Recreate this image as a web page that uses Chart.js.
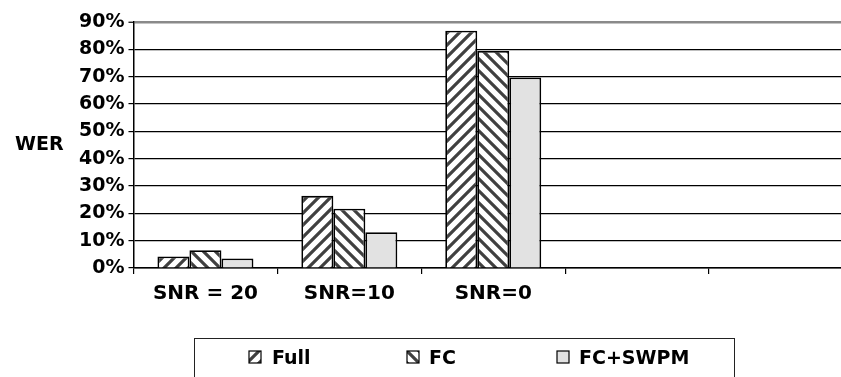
<!DOCTYPE html>
<html>
<head>
<meta charset="utf-8">
<script src="https://cdn.jsdelivr.net/npm/chart.js@4.4.1/dist/chart.umd.min.js"></script>
<style>
  html, body { margin: 0; padding: 0; background: #fff; overflow: hidden; }
  #wrap { position: relative; width: 860px; height: 377px; }
  #c { position: absolute; left: 0; top: 0; }
  .txt { position: absolute; font-family: 'DejaVu Sans', sans-serif; font-weight: bold; font-size: 19px; line-height: 22px; color: #000; white-space: nowrap; }
  #legendBox { position: absolute; left: 194px; top: 338px; width: 541px; height: 60px; box-sizing: border-box; border: 1.5px solid #222; }
  .mk { position: absolute; }
</style>
</head>
<body>
<div id="wrap">
  <canvas id="c" width="860" height="377"></canvas>
  <div class="txt" id="yTitle" style="left:15px; top:132px;">WER</div>
  <div id="legendBox"></div>
  <canvas class="mk" id="mk0" width="14" height="14" style="left:248px; top:350px;"></canvas>
  <div class="txt" id="lg0" style="left:272px; top:346px;"></div>
  <canvas class="mk" id="mk1" width="14" height="14" style="left:406px; top:350px;"></canvas>
  <div class="txt" id="lg1" style="left:429px; top:346px;"></div>
  <canvas class="mk" id="mk2" width="14" height="14" style="left:556px; top:350px;"></canvas>
  <div class="txt" id="lg2" style="left:579px; top:346px;"></div>
</div>
<script>
// ---- data ----
const categories = ['SNR = 20', 'SNR=10', 'SNR=0', '', ''];
const seriesNames = ['Full', 'FC', 'FC+SWPM'];
const fullValues = [4.2, 26.4, 86.8, null, null];
const fcValues = [6.5, 21.7, 79.4, null, null];
const fcSwpmValues = [3.5, 13.1, 69.7, null, null];
const yTicks = [0, 10, 20, 30, 40, 50, 60, 70, 80, 90];
const yTitle = 'WER';

// ---- patterns ----
function makeHatch(dir) {
  const s = 12;
  const c = document.createElement('canvas');
  c.width = s; c.height = s;
  const g = c.getContext('2d');
  g.fillStyle = '#ffffff';
  g.fillRect(0, 0, s, s);
  g.strokeStyle = '#404040';
  g.lineWidth = 3.2;
  g.beginPath();
  const h = s / 2;
  if (dir === '/') {
    g.moveTo(-h, h); g.lineTo(h, -h);
    g.moveTo(0, s); g.lineTo(s, 0);
    g.moveTo(h, s + h); g.lineTo(s + h, h);
  } else {
    g.moveTo(-h, h); g.lineTo(h, s + h);
    g.moveTo(0, 0); g.lineTo(s, s);
    g.moveTo(h, -h); g.lineTo(s + h, h);
  }
  g.stroke();
  return g.createPattern(c, 'repeat');
}
const ctx = document.getElementById('c').getContext('2d');
const fills = [makeHatch('/'), makeHatch('\\'), '#e2e2e2'];

// legend (HTML)
seriesNames.forEach((n, i) => {
  document.getElementById('lg' + i).textContent = n;
  const m = document.getElementById('mk' + i).getContext('2d');
  m.fillStyle = fills[i];
  m.fillRect(1, 1, 12, 12);
  m.strokeStyle = '#000';
  m.lineWidth = 1.2;
  m.strokeRect(1, 1, 12, 12);
});
document.getElementById('yTitle').textContent = yTitle;

Chart.defaults.color = '#000';
Chart.defaults.font.family = "'DejaVu Sans', sans-serif";
Chart.defaults.font.weight = 'bold';

const valueSets = [fullValues, fcValues, fcSwpmValues];
new Chart(ctx, {
  type: 'bar',
  data: {
    labels: categories,
    datasets: seriesNames.map((n, i) => ({
      label: n,
      data: valueSets[i],
      backgroundColor: fills[i],
      borderColor: '#000',
      borderWidth: 1.8,
      categoryPercentage: 0.667,
      barPercentage: 1.0
    }))
  },
  options: {
    responsive: false,
    animation: false,
    devicePixelRatio: 1,
    layout: { padding: { left: 75, right: 7, top: 22, bottom: 63 } },
    plugins: { legend: { display: false }, tooltip: { enabled: false } },
    scales: {
      x: {
        grid: { offset: true, drawOnChartArea: false, color: '#000', tickLength: 6, lineWidth: 1.2 },
        border: { color: '#000', width: 1.5 },
        ticks: { font: { size: 20, weight: 'bold' }, padding: 8, maxRotation: 0, autoSkip: false }
      },
      y: {
        min: 0, max: 90,
        afterBuildTicks: (axis) => { axis.ticks = yTicks.map(v => ({ value: v })); },
        grid: {
          color: (c) => (c.tick && c.tick.value === 90 ? '#8a8a8a' : '#000'),
          lineWidth: (c) => (c.tick && c.tick.value === 90 ? 2.5 : 1.2),
          tickColor: '#000', tickWidth: 1.2, tickLength: 5
        },
        border: { color: '#000', width: 1.5 },
        ticks: { font: { size: 19, weight: 'bold' }, padding: 4, callback: (v) => v + '%' }
      }
    }
  }
});
</script>
</body>
</html>
